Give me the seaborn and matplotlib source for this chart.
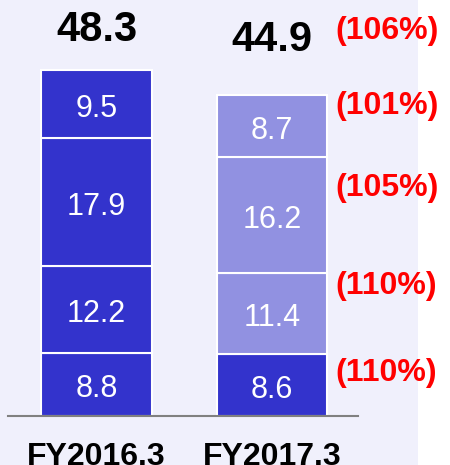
import numpy as np
import pandas as pd
import seaborn as sns
import matplotlib.pyplot as plt
from matplotlib.patches import Rectangle

# dados
periods = ['FY2016.3', 'FY2017.3']
seg_bottom = [8.8, 8.6]
seg_2 = [12.2, 11.4]
seg_3 = [17.9, 16.2]
seg_top = [9.5, 8.7]
totals = [48.3, 44.9]
growth = ['(106%)', '(101%)', '(105%)', '(110%)', '(110%)']

# cores
dark = '#3333CC'
light = '#9191E1'
bg = '#F0F0FC'
layer_colors = [[dark, dark], [dark, light], [dark, light], [dark, light]]

sns.set_style('white')
plt.rcParams['font.family'] = ['Liberation Sans', 'DejaVu Sans']

fig = plt.figure(figsize=(4.5, 4.65), dpi=100)
fig.patch.set_facecolor(bg)
# faixa branca na direita
fig.patches.append(Rectangle((418 / 450, 0), 1 - 418 / 450, 1, transform=fig.transFigure,
                             facecolor='white', edgecolor='none', zorder=-1))

ax = fig.add_axes([8 / 450, (465 - 415.7) / 465, 350 / 450, 415.7 / 465])
ax.set_facecolor('none')
ax.set_zorder(1)

layers = [seg_bottom, seg_2, seg_3, seg_top]
cum = np.zeros(len(periods))
for vals, cols in zip(layers, layer_colors):
    df = pd.DataFrame({'period': periods, 'value': vals})
    n_before = len(ax.patches)
    sns.barplot(data=df, x='period', y='value', color=dark, saturation=1,
                bottom=cum, width=0.63, edgecolor='white', linewidth=1.5, ax=ax)
    # cor de cada barra da camada
    for p, c in zip(ax.patches[n_before:], cols):
        p.set_facecolor(c)
    for i, v in enumerate(vals):
        # linha de base um pouco abaixo do centro do segmento
        ax.text(i, cum[i] + v / 2 - 1.8, f'{v:.1f}', ha='center', va='baseline',
                color='white', fontsize=22)
    cum = cum + np.array(vals)

# totais acima das barras
total_y = [52.4, 51.0]
for i, t in enumerate(totals):
    ax.text(i, total_y[i], f'{t:.1f}', ha='center', va='baseline',
            fontsize=30, fontweight='bold', color='black')

# percentuais em vermelho
growth_y = [52.8, 42.3, 30.8, 17.0, 4.8]
for g, y in zip(growth, growth_y):
    ax.text(1.36, y, g, ha='left', va='baseline', color='#FF0000',
            fontsize=23, fontweight='bold', clip_on=False)

ax.set_xlim(-0.504, 1.49)
ax.set_ylim(0, 58.2)
ax.set_xlabel('')
ax.set_ylabel('')
ax.set_yticks([])
ax.tick_params(axis='x', length=0, pad=19, labelsize=23, labelcolor='black')
for lab in ax.get_xticklabels():
    lab.set_fontweight('bold')
for s in ['top', 'left', 'right']:
    ax.spines[s].set_visible(False)
ax.spines['bottom'].set_color('#808080')
ax.spines['bottom'].set_linewidth(1.5)

fig.savefig('out.png', dpi=100, facecolor=fig.get_facecolor())
